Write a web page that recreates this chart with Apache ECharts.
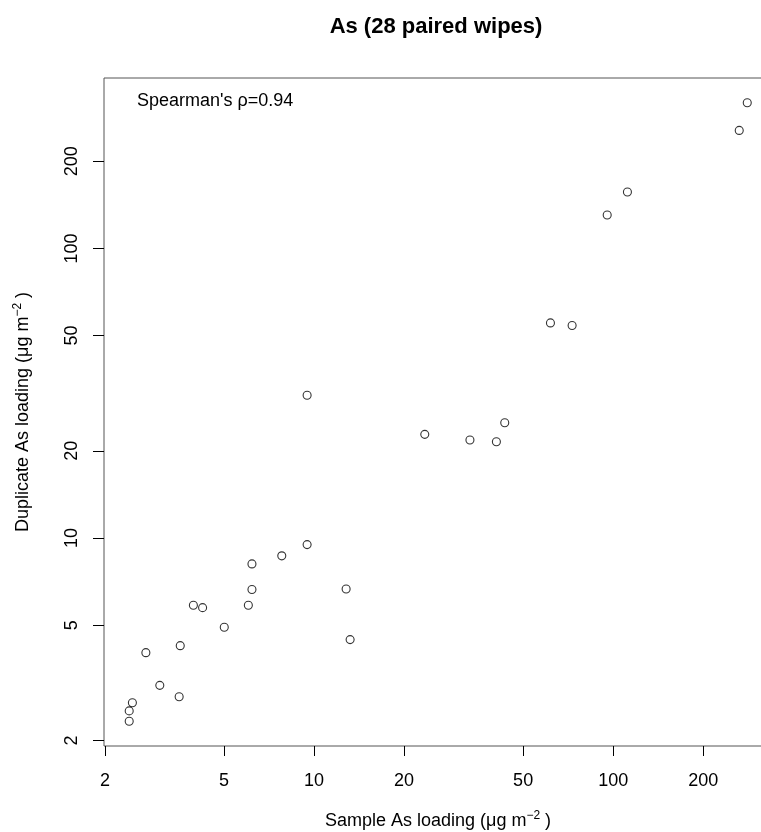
<!DOCTYPE html>
<html><head><meta charset="utf-8">
<script src="https://cdn.jsdelivr.net/npm/echarts@6/dist/echarts.min.js"></script>
<style>html,body{margin:0;padding:0;background:#fff;overflow:hidden}#c{width:761px;height:832px}</style>
</head><body><div id="c"></div>
<script>
const sampleAs = [280.7, 263.9, 111.6, 95.5, 61.7, 72.9, 9.48, 23.45, 43.4, 33.2, 40.7, 9.48, 7.80, 6.20, 6.20, 12.8, 3.95, 4.24, 6.03, 5.01, 13.2, 3.57, 2.74, 3.05, 3.54, 2.47, 2.41, 2.41];
const duplicateAs = [318.4, 255.5, 156.5, 130.4, 55.3, 54.2, 31.1, 22.8, 25.0, 21.8, 21.5, 9.49, 8.68, 8.14, 6.64, 6.67, 5.86, 5.75, 5.86, 4.92, 4.46, 4.25, 4.02, 3.10, 2.83, 2.70, 2.53, 2.33];
const xTicks = [2, 5, 10, 20, 50, 100, 200];
const yTicks = [2, 5, 10, 20, 50, 100, 200];
const titleText = 'As (28 paired wipes)';
const annotation = "Spearman's \u03c1=0.94";

const FONT = '"Liberation Sans", Arial, sans-serif';
const points = sampleAs.map((x, i) => [x, duplicateAs[i]]);
const chart = echarts.init(document.getElementById('c'), null, {renderer: 'canvas'});
const rich = {sup: {fontSize: 12, fontFamily: FONT, color: '#000', padding: [0, 0, 10, 0]}};
chart.setOption({
  animation: false,
  backgroundColor: '#fff',
  title: {
    text: titleText, left: 431, top: 11, textAlign: 'center',
    textStyle: {fontFamily: FONT, fontSize: 22, fontWeight: 'bold', color: '#000'}
  },
  graphic: [{
    type: 'text', left: 137, top: 92,
    style: {text: annotation, font: '18px ' + FONT, fill: '#000'}
  }],
  grid: {left: 104, top: 78, width: 668, height: 668, show: true, borderColor: '#555', borderWidth: 1, containLabel: false, outerBoundsMode: 'none'},
  xAxis: {
    type: 'log', min: 1.985, max: 339.6,
    name: 'Sample As loading (\u03bcg m{sup|\u22122} )',
    nameLocation: 'middle', nameGap: 64,
    nameTextStyle: {fontFamily: FONT, fontSize: 18, color: '#000', rich: rich},
    axisLine: {show: false},
    axisTick: {show: true, length: 10, lineStyle: {color: '#000', width: 1}, customValues: xTicks},
    axisLabel: {customValues: xTicks, margin: 26, fontFamily: FONT, fontSize: 18, color: '#000', formatter: v => String(v)},
    splitLine: {show: false}, minorTick: {show: false}
  },
  yAxis: {
    type: 'log', min: 1.914, max: 387.6,
    name: 'Duplicate As loading (\u03bcg m{sup|\u22122} )',
    nameLocation: 'middle', nameGap: 70, nameRotate: 90,
    nameTextStyle: {fontFamily: FONT, fontSize: 18, color: '#000', rich: rich},
    axisLine: {show: false},
    axisTick: {show: true, length: 11, lineStyle: {color: '#000', width: 1}, customValues: yTicks},
    axisLabel: {customValues: yTicks, rotate: 90, margin: 23, fontFamily: FONT, fontSize: 18, color: '#000', formatter: v => String(v)},
    splitLine: {show: false}, minorTick: {show: false}
  },
  series: [{
    type: 'scatter', data: points, symbol: 'circle', symbolSize: 8,
    itemStyle: {color: 'rgba(255,255,255,0)', borderColor: '#000', borderWidth: 1.1},
    emphasis: {disabled: true}
  }]
});
</script></body></html>
